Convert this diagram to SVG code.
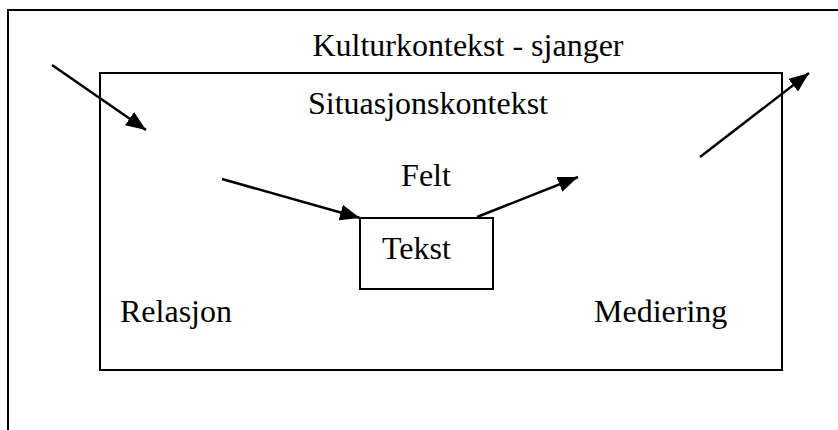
<svg xmlns="http://www.w3.org/2000/svg" width="838" height="430" viewBox="0 0 838 430">
<defs>
<style>
.box{fill:none;stroke:#000;stroke-width:2}
.lbl{font-family:"Liberation Serif","Times New Roman",serif;font-size:32px;fill:#000}
.con{stroke:#000;stroke-width:2.5;fill:none}
</style>
<marker id="ah" markerUnits="userSpaceOnUse" markerWidth="20" markerHeight="16" viewBox="0 0 20 16" refX="20" refY="8" orient="auto">
<path d="M0,0 L20,8 L0,16 Z" fill="#000"/>
</marker>
</defs>
<rect width="838" height="430" fill="#fff"/>
<g id="kultur">
<rect class="box" x="8" y="10" width="840" height="440"/>
<text class="lbl" x="468" y="56" text-anchor="middle">Kulturkontekst - sjanger</text>
</g>
<g id="situasjon">
<rect class="box" x="100" y="73" width="682" height="297"/>
<text class="lbl" x="428" y="114" text-anchor="middle">Situasjonskontekst</text>
</g>
<g id="felt"><text class="lbl" x="426" y="186" text-anchor="middle">Felt</text></g>
<g id="tekst">
<rect class="box" x="360" y="218" width="133" height="71"/>
<text class="lbl" x="382" y="259">Tekst</text>
</g>
<g id="relasjon"><text class="lbl" x="120" y="322">Relasjon</text></g>
<g id="mediering"><text class="lbl" x="594" y="322">Mediering</text></g>
<g id="connectors">
<line class="con" x1="52" y1="65" x2="146" y2="130" marker-end="url(#ah)"/>
<line class="con" x1="222" y1="179" x2="360" y2="218" marker-end="url(#ah)"/>
<line class="con" x1="477" y1="217" x2="578" y2="177" marker-end="url(#ah)"/>
<line class="con" x1="700" y1="157" x2="809" y2="73" marker-end="url(#ah)"/>
</g>
</svg>
